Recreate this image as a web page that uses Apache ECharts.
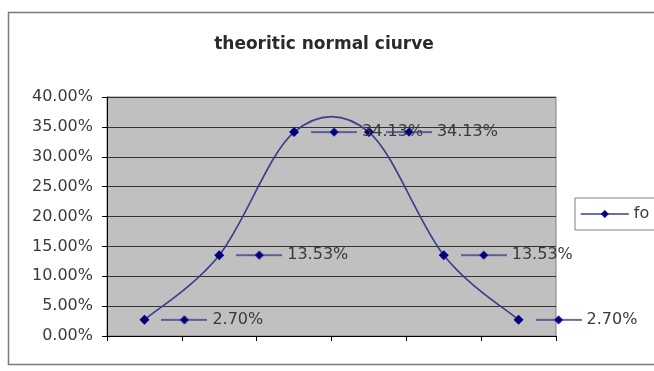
<!DOCTYPE html>
<html><head><meta charset="utf-8">
<script src="https://cdn.jsdelivr.net/npm/echarts@6/dist/echarts.min.js"></script>
<style>html,body{margin:0;padding:0;background:#fff}#c{width:654px;height:371px}</style>
</head><body><div id="c"></div>
<script>
const chartTitle = 'theoritic normal ciurve';
const seriesName = 'fo';
const categories = ['', '', '', '', '', ''];
const foValues = [0.027, 0.1353, 0.3413, 0.3413, 0.1353, 0.027];
const yMin = 0, yMax = 0.4, yInterval = 0.05;

const FONT = 'DejaVu Sans';
const LINE_COLOR = '#3c3c8c';
const MARK_COLOR = '#000080';
const TEXT_COLOR = '#3a3a3a';

// legend-key image used inside data labels
const key = document.createElement('canvas');
key.width = 46; key.height = 10;
(function(){
  const g = key.getContext('2d');
  g.strokeStyle = LINE_COLOR; g.lineWidth = 1.6;
  g.beginPath(); g.moveTo(0, 5); g.lineTo(46, 5); g.stroke();
  g.fillStyle = MARK_COLOR;
  g.beginPath(); g.moveTo(23, 0.5); g.lineTo(27.5, 5); g.lineTo(23, 9.5); g.lineTo(18.5, 5); g.closePath(); g.fill();
})();

const pct = v => (v * 100).toFixed(2) + '%';

const chart = echarts.init(document.getElementById('c'));
chart.setOption({
  animation: false,
  backgroundColor: '#fff',
  graphic: [{
    type: 'rect', z: -10, silent: true,
    shape: {x: 8.5, y: 12.5, width: 700, height: 352},
    style: {fill: '#fff', stroke: '#7a7a7a', lineWidth: 1.5}
  }],
  title: {
    text: chartTitle, left: 319, top: 31, textAlign: 'center',
    textStyle: {fontFamily: FONT, fontSize: 17, fontWeight: 'bold', color: '#2a2a2a'}
  },
  legend: {
    data: [seriesName], left: 575, top: 198,
    padding: [8, 25, 8, 5], itemWidth: 48, itemHeight: 10,
    backgroundColor: '#fff', borderColor: '#808080', borderWidth: 1, borderRadius: 0,
    lineStyle: {width: 1.6, color: LINE_COLOR, opacity: 1},
    textStyle: {fontFamily: FONT, fontSize: 16, color: TEXT_COLOR}
  },
  grid: {
    left: 107, right: 98, top: 97, bottom: 35, show: true,
    backgroundColor: '#c0c0c0', borderColor: '#808080', borderWidth: 1
  },
  xAxis: {
    type: 'category', data: categories, boundaryGap: true,
    axisLine: {lineStyle: {color: '#000', width: 1}},
    axisTick: {show: true, length: 5, lineStyle: {color: '#000'}},
    axisLabel: {show: false},
    splitLine: {show: false}
  },
  yAxis: {
    type: 'value', min: yMin, max: yMax, interval: yInterval,
    axisLine: {show: true, lineStyle: {color: '#000', width: 1}},
    axisTick: {show: true, length: 5, lineStyle: {color: '#000'}},
    axisLabel: {formatter: pct, margin: 14, fontFamily: FONT, fontSize: 16, color: TEXT_COLOR},
    splitLine: {lineStyle: {color: '#333', width: 1}}
  },
  series: [
    {
      type: 'custom', name: 'curve', z: 2, silent: true,
      data: foValues.map((v, i) => [i, v]),
      encode: {x: 0, y: 1},
      renderItem: function (params, api) {
        if (params.dataIndex !== 0) return null;
        const pts = foValues.map((v, i) => api.coord([i, v]));
        const children = [];
        for (let i = 0; i < pts.length - 1; i++) {
          const p0 = pts[Math.max(i - 1, 0)], p1 = pts[i], p2 = pts[i + 1], p3 = pts[Math.min(i + 2, pts.length - 1)];
          children.push({
            type: 'bezierCurve',
            shape: {
              x1: p1[0], y1: p1[1],
              cpx1: p1[0] + (p2[0] - p0[0]) / 6, cpy1: p1[1] + (p2[1] - p0[1]) / 6,
              cpx2: p2[0] - (p3[0] - p1[0]) / 6, cpy2: p2[1] - (p3[1] - p1[1]) / 6,
              x2: p2[0], y2: p2[1]
            },
            style: {stroke: LINE_COLOR, lineWidth: 1.6, fill: 'none'}
          });
        }
        return {type: 'group', children: children};
      }
    },
    {
      type: 'line', name: seriesName, z: 3,
      data: foValues,
      symbol: 'diamond', symbolSize: 10, showAllSymbol: true,
      itemStyle: {color: MARK_COLOR},
      lineStyle: {opacity: 0, width: 1.6, color: LINE_COLOR},
      label: {
        show: true, position: 'right', distance: 12,
        formatter: p => '{k| }{v|' + pct(p.value) + '}',
        rich: {
          k: {width: 46, height: 10, backgroundColor: {image: key}},
          v: {fontFamily: FONT, fontSize: 16, color: TEXT_COLOR, padding: [0, 0, 0, 5]}
        }
      }
    }
  ]
});
</script>
</body></html>
